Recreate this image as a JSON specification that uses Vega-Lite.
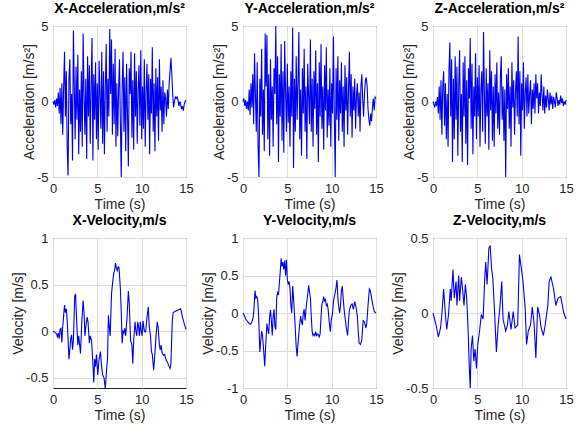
{
"$schema":"https://vega.github.io/schema/vega-lite/v6.json",
"background":"white",
"padding":{"left":11,"top":1,"right":2,"bottom":2},
"config":{
 "font":"Liberation Sans",
 "view":{"stroke":"#262626","strokeWidth":1},
 "axis":{"grid":true,"gridColor":"#dcdcdc","gridWidth":1,"domain":false,"ticks":false,"labelFlush":false,"labelFontSize":13,"labelColor":"#262626","labelPadding":5,"titleFontSize":14,"titleFontWeight":"normal","titleColor":"#262626","labelExpr":"datum.value + ''"},
 "axisX":{"titlePadding":2},
 "axisY":{"titlePadding":0},
 "title":{"fontSize":14,"fontWeight":"bold","color":"#000000","offset":4,"frame":"group"},
 "line":{"color":"#0000f0","strokeWidth":1.1,"clip":true}
},
"datasets":{
"ax":[{"t":0,"v":0},{"t":0.1,"v":-0.2},{"t":0.2,"v":0.1},{"t":0.3,"v":-0.4},{"t":0.4,"v":0.2},{"t":0.5,"v":-0.3},{"t":0.6,"v":0.6},{"t":0.7,"v":-0.8},{"t":0.8,"v":0.9},{"t":0.9,"v":-1.5},
{"t":1.0,"v":1.2},{"t":1.1,"v":-2.2},{"t":1.2,"v":1.0},{"t":1.3,"v":3.3},{"t":1.4,"v":-1.0},{"t":1.5,"v":2.0},{"t":1.6,"v":-3.0},{"t":1.7,"v":-4.9},{"t":1.8,"v":1.5},{"t":1.9,"v":2.8},
{"t":2.0,"v":-1.5},{"t":2.1,"v":0.5},{"t":2.2,"v":-3.9},{"t":2.3,"v":4.7},{"t":2.4,"v":1.0},{"t":2.5,"v":-2.5},{"t":2.6,"v":2.3},{"t":2.7,"v":-1.2},{"t":2.8,"v":3.1},{"t":2.9,"v":-3.5},
{"t":3.0,"v":0.8},{"t":3.1,"v":-2.0},{"t":3.2,"v":2.0},{"t":3.3,"v":-3.0},{"t":3.4,"v":4.5},{"t":3.5,"v":0.5},{"t":3.6,"v":-2.2},{"t":3.7,"v":1.5},{"t":3.8,"v":-3.8},{"t":3.9,"v":3.0},
{"t":4.0,"v":-1.0},{"t":4.1,"v":2.4},{"t":4.2,"v":-2.8},{"t":4.3,"v":0.9},{"t":4.4,"v":4.2},{"t":4.5,"v":-3.9},{"t":4.6,"v":1.8},{"t":4.7,"v":-1.2},{"t":4.8,"v":2.6},{"t":4.9,"v":-2.5},
{"t":5.0,"v":1.2},{"t":5.1,"v":-3.2},{"t":5.2,"v":2.7},{"t":5.3,"v":0.4},{"t":5.4,"v":-1.8},{"t":5.5,"v":3.3},{"t":5.6,"v":-2.8},{"t":5.7,"v":2.0},{"t":5.8,"v":-3.5},{"t":5.9,"v":1.0},
{"t":6.0,"v":3.8},{"t":6.1,"v":-2.0},{"t":6.2,"v":1.5},{"t":6.3,"v":-1.0},{"t":6.4,"v":4.8},{"t":6.5,"v":0.5},{"t":6.6,"v":4.1},{"t":6.7,"v":-2.2},{"t":6.8,"v":2.5},{"t":6.9,"v":-1.5},
{"t":7.0,"v":3.5},{"t":7.1,"v":-3.0},{"t":7.2,"v":1.2},{"t":7.3,"v":-2.3},{"t":7.4,"v":0.8},{"t":7.5,"v":2.8},{"t":7.6,"v":-1.5},{"t":7.7,"v":-5.0},{"t":7.8,"v":1.0},{"t":7.9,"v":3.3},
{"t":8.0,"v":-2.0},{"t":8.1,"v":1.6},{"t":8.2,"v":-3.3},{"t":8.3,"v":2.5},{"t":8.4,"v":-0.8},{"t":8.5,"v":-4.3},{"t":8.6,"v":2.2},{"t":8.7,"v":0.5},{"t":8.8,"v":3.3},{"t":8.9,"v":-2.4},
{"t":9.0,"v":1.4},{"t":9.1,"v":-3.2},{"t":9.2,"v":3.2},{"t":9.3,"v":-1.0},{"t":9.4,"v":2.0},{"t":9.5,"v":-2.8},{"t":9.6,"v":0.8},{"t":9.7,"v":2.4},{"t":9.8,"v":-1.6},{"t":9.9,"v":3.4},
{"t":10.0,"v":-2.5},{"t":10.1,"v":1.0},{"t":10.2,"v":-1.8},{"t":10.3,"v":2.8},{"t":10.4,"v":-3.0},{"t":10.5,"v":0.6},{"t":10.6,"v":2.5},{"t":10.7,"v":-1.2},{"t":10.8,"v":1.8},{"t":10.9,"v":-3.5},
{"t":11.0,"v":1.5},{"t":11.1,"v":-0.8},{"t":11.2,"v":3.6},{"t":11.3,"v":-2.0},{"t":11.4,"v":1.2},{"t":11.5,"v":-3.3},{"t":11.6,"v":2.2},{"t":11.7,"v":-1.0},{"t":11.8,"v":1.6},{"t":11.9,"v":-2.6},
{"t":12.0,"v":2.8},{"t":12.1,"v":-0.6},{"t":12.2,"v":1.0},{"t":12.3,"v":-2.0},{"t":12.4,"v":1.4},{"t":12.5,"v":-1.5},{"t":12.6,"v":0.6},{"t":12.7,"v":0.2},{"t":12.8,"v":-1.0},{"t":12.9,"v":0.8},
{"t":13.0,"v":-0.5},{"t":13.1,"v":1.2},{"t":13.2,"v":2.0},{"t":13.3,"v":2.9},{"t":13.4,"v":1.8},{"t":13.5,"v":0.5},{"t":13.6,"v":-0.4},{"t":13.7,"v":0.0},{"t":13.8,"v":0.3},{"t":13.9,"v":0.2},
{"t":14.0,"v":0.3},{"t":14.1,"v":0.1},{"t":14.2,"v":-0.3},{"t":14.3,"v":0.0},{"t":14.4,"v":-0.2},{"t":14.5,"v":-0.5},{"t":14.6,"v":-0.3},{"t":14.7,"v":-0.6},{"t":14.8,"v":-0.2},{"t":14.9,"v":0.0},{"t":15.0,"v":0.1}],
"ay":[{"t":0,"v":0},{"t":0.1,"v":0.2},{"t":0.2,"v":-0.3},{"t":0.3,"v":0.1},{"t":0.4,"v":-0.5},{"t":0.5,"v":0.0},{"t":0.6,"v":-0.6},{"t":0.7,"v":0.8},{"t":0.8,"v":-0.9},{"t":0.9,"v":1.2},
{"t":1.0,"v":-0.4},{"t":1.1,"v":1.8},{"t":1.2,"v":-1.5},{"t":1.3,"v":3.2},{"t":1.4,"v":0.5},{"t":1.5,"v":-2.0},{"t":1.6,"v":2.6},{"t":1.7,"v":-3.0},{"t":1.8,"v":-5.0},{"t":1.9,"v":1.5},
{"t":2.0,"v":-1.0},{"t":2.1,"v":3.5},{"t":2.2,"v":-2.2},{"t":2.3,"v":0.8},{"t":2.4,"v":-3.3},{"t":2.5,"v":4.5},{"t":2.6,"v":1.0},{"t":2.7,"v":4.4},{"t":2.8,"v":-2.5},{"t":2.9,"v":1.8},
{"t":3.0,"v":-3.6},{"t":3.1,"v":2.8},{"t":3.2,"v":-1.2},{"t":3.3,"v":1.0},{"t":3.4,"v":-3.0},{"t":3.5,"v":2.2},{"t":3.6,"v":0.5},{"t":3.7,"v":5.0},{"t":3.8,"v":-1.5},{"t":3.9,"v":3.0},
{"t":4.0,"v":-4.0},{"t":4.1,"v":1.8},{"t":4.2,"v":-1.0},{"t":4.3,"v":3.8},{"t":4.4,"v":-2.6},{"t":4.5,"v":2.0},{"t":4.6,"v":-3.4},{"t":4.7,"v":4.0},{"t":4.8,"v":0.6},{"t":4.9,"v":-2.0},
{"t":5.0,"v":2.5},{"t":5.1,"v":-1.4},{"t":5.2,"v":1.0},{"t":5.3,"v":-3.0},{"t":5.4,"v":2.0},{"t":5.5,"v":-1.0},{"t":5.6,"v":4.9},{"t":5.7,"v":-4.4},{"t":5.8,"v":1.5},{"t":5.9,"v":-2.0},
{"t":6.0,"v":3.0},{"t":6.1,"v":-1.2},{"t":6.2,"v":1.2},{"t":6.3,"v":4.6},{"t":6.4,"v":-2.5},{"t":6.5,"v":0.8},{"t":6.6,"v":-3.6},{"t":6.7,"v":2.2},{"t":6.8,"v":-0.8},{"t":6.9,"v":3.5},
{"t":7.0,"v":-2.0},{"t":7.1,"v":1.0},{"t":7.2,"v":-3.8},{"t":7.3,"v":2.5},{"t":7.4,"v":0.4},{"t":7.5,"v":-1.5},{"t":7.6,"v":4.1},{"t":7.7,"v":-2.0},{"t":7.8,"v":1.5},{"t":7.9,"v":-3.0},
{"t":8.0,"v":2.0},{"t":8.1,"v":-0.5},{"t":8.2,"v":3.4},{"t":8.3,"v":-2.2},{"t":8.4,"v":1.2},{"t":8.5,"v":-4.0},{"t":8.6,"v":2.6},{"t":8.7,"v":-1.0},{"t":8.8,"v":3.8},{"t":8.9,"v":-1.8},
{"t":9.0,"v":1.0},{"t":9.1,"v":-3.2},{"t":9.2,"v":2.4},{"t":9.3,"v":-0.6},{"t":9.4,"v":3.6},{"t":9.5,"v":-2.4},{"t":9.6,"v":0.8},{"t":9.7,"v":-1.6},{"t":9.8,"v":2.2},{"t":9.9,"v":-3.0},
{"t":10.0,"v":1.2},{"t":10.1,"v":-0.8},{"t":10.2,"v":4.3},{"t":10.3,"v":-1.0},{"t":10.4,"v":-5.0},{"t":10.5,"v":2.2},{"t":10.6,"v":-1.2},{"t":10.7,"v":3.0},{"t":10.8,"v":-2.6},{"t":10.9,"v":1.4},
{"t":11.0,"v":-0.8},{"t":11.1,"v":2.6},{"t":11.2,"v":-2.0},{"t":11.3,"v":1.0},{"t":11.4,"v":-3.0},{"t":11.5,"v":2.4},{"t":11.6,"v":-0.6},{"t":11.7,"v":1.6},{"t":11.8,"v":-2.2},{"t":11.9,"v":0.8},
{"t":12.0,"v":3.3},{"t":12.1,"v":-1.0},{"t":12.2,"v":1.8},{"t":12.3,"v":-2.4},{"t":12.4,"v":1.0},{"t":12.5,"v":-0.6},{"t":12.6,"v":1.5},{"t":12.7,"v":-1.8},{"t":12.8,"v":0.4},{"t":12.9,"v":1.2},
{"t":13.0,"v":-1.0},{"t":13.1,"v":0.6},{"t":13.2,"v":-2.0},{"t":13.3,"v":1.0},{"t":13.4,"v":1.8},{"t":13.5,"v":0.2},{"t":13.6,"v":-1.0},{"t":13.7,"v":0.5},{"t":13.8,"v":1.4},{"t":13.9,"v":1.6},
{"t":14.0,"v":1.0},{"t":14.1,"v":-0.5},{"t":14.2,"v":-1.2},{"t":14.3,"v":-1.6},{"t":14.4,"v":-0.8},{"t":14.5,"v":-1.3},{"t":14.6,"v":-0.4},{"t":14.7,"v":0.2},{"t":14.8,"v":-0.6},{"t":14.9,"v":0.3},{"t":15.0,"v":0.2}],
"az":[{"t":0,"v":0},{"t":0.1,"v":-0.2},{"t":0.2,"v":-0.4},{"t":0.3,"v":0.0},{"t":0.4,"v":-0.3},{"t":0.5,"v":0.3},{"t":0.6,"v":-0.8},{"t":0.7,"v":1.0},{"t":0.8,"v":-1.2},{"t":0.9,"v":1.4},
{"t":1.0,"v":-2.2},{"t":1.1,"v":1.0},{"t":1.2,"v":2.0},{"t":1.3,"v":-1.6},{"t":1.4,"v":1.2},{"t":1.5,"v":-2.5},{"t":1.6,"v":0.5},{"t":1.7,"v":-3.0},{"t":1.8,"v":2.0},{"t":1.9,"v":3.9},
{"t":2.0,"v":-1.0},{"t":2.1,"v":2.8},{"t":2.2,"v":-4.0},{"t":2.3,"v":1.5},{"t":2.4,"v":-2.5},{"t":2.5,"v":3.0},{"t":2.6,"v":-1.2},{"t":2.7,"v":2.3},{"t":2.8,"v":-3.6},{"t":2.9,"v":1.0},
{"t":3.0,"v":3.4},{"t":3.1,"v":-2.0},{"t":3.2,"v":0.5},{"t":3.3,"v":-4.0},{"t":3.4,"v":2.6},{"t":3.5,"v":-1.0},{"t":3.6,"v":3.0},{"t":3.7,"v":-2.8},{"t":3.8,"v":1.4},{"t":3.9,"v":-4.2},
{"t":4.0,"v":2.2},{"t":4.1,"v":0.2},{"t":4.2,"v":4.2},{"t":4.3,"v":-1.8},{"t":4.4,"v":2.5},{"t":4.5,"v":-3.5},{"t":4.6,"v":1.0},{"t":4.7,"v":-1.0},{"t":4.8,"v":3.2},{"t":4.9,"v":-2.5},
{"t":5.0,"v":1.6},{"t":5.1,"v":-1.0},{"t":5.2,"v":2.4},{"t":5.3,"v":-3.0},{"t":5.4,"v":0.8},{"t":5.5,"v":2.0},{"t":5.6,"v":-2.0},{"t":5.7,"v":4.6},{"t":5.8,"v":0.4},{"t":5.9,"v":-2.8},
{"t":6.0,"v":2.2},{"t":6.1,"v":-1.0},{"t":6.2,"v":1.2},{"t":6.3,"v":-3.2},{"t":6.4,"v":3.4},{"t":6.5,"v":-0.6},{"t":6.6,"v":2.0},{"t":6.7,"v":-2.6},{"t":6.8,"v":1.0},{"t":6.9,"v":-3.0},
{"t":7.0,"v":1.8},{"t":7.1,"v":-0.8},{"t":7.2,"v":2.6},{"t":7.3,"v":-1.8},{"t":7.4,"v":0.6},{"t":7.5,"v":-2.2},{"t":7.6,"v":1.6},{"t":7.7,"v":3.0},{"t":7.8,"v":-1.2},{"t":7.9,"v":1.0},
{"t":8.0,"v":-2.6},{"t":8.1,"v":0.8},{"t":8.2,"v":-5.0},{"t":8.3,"v":1.8},{"t":8.4,"v":-0.5},{"t":8.5,"v":2.2},{"t":8.6,"v":-1.8},{"t":8.7,"v":1.0},{"t":8.8,"v":-3.0},{"t":8.9,"v":2.6},
{"t":9.0,"v":-0.4},{"t":9.1,"v":1.4},{"t":9.2,"v":-2.2},{"t":9.3,"v":0.6},{"t":9.4,"v":2.0},{"t":9.5,"v":-1.0},{"t":9.6,"v":4.3},{"t":9.7,"v":-1.5},{"t":9.8,"v":2.0},{"t":9.9,"v":-3.6},
{"t":10.0,"v":1.2},{"t":10.1,"v":-0.6},{"t":10.2,"v":2.6},{"t":10.3,"v":-1.8},{"t":10.4,"v":0.6},{"t":10.5,"v":1.6},{"t":10.6,"v":-1.0},{"t":10.7,"v":1.8},{"t":10.8,"v":-0.8},{"t":10.9,"v":0.5},
{"t":11.0,"v":1.4},{"t":11.1,"v":-1.5},{"t":11.2,"v":0.8},{"t":11.3,"v":-0.5},{"t":11.4,"v":1.2},{"t":11.5,"v":-0.8},{"t":11.6,"v":1.8},{"t":11.7,"v":0.2},{"t":11.8,"v":1.2},{"t":11.9,"v":-0.8},
{"t":12.0,"v":0.6},{"t":12.1,"v":-0.3},{"t":12.2,"v":1.8},{"t":12.3,"v":0.4},{"t":12.4,"v":-0.6},{"t":12.5,"v":1.0},{"t":12.6,"v":-0.8},{"t":12.7,"v":0.4},{"t":12.8,"v":-0.4},{"t":12.9,"v":0.8},
{"t":13.0,"v":0.2},{"t":13.1,"v":-0.6},{"t":13.2,"v":0.6},{"t":13.3,"v":-0.2},{"t":13.4,"v":0.4},{"t":13.5,"v":-0.5},{"t":13.6,"v":0.3},{"t":13.7,"v":0.0},{"t":13.8,"v":-0.4},{"t":13.9,"v":0.6},
{"t":14.0,"v":0.2},{"t":14.1,"v":-0.3},{"t":14.2,"v":0.1},{"t":14.3,"v":-0.2},{"t":14.4,"v":0.4},{"t":14.5,"v":-0.1},{"t":14.6,"v":0.2},{"t":14.7,"v":-0.3},{"t":14.8,"v":0.0},{"t":14.9,"v":-0.2},{"t":15.0,"v":0.1}],
"vx":[{"t":0,"v":0},{"t":0.2,"v":-0.01},{"t":0.4,"v":-0.03},{"t":0.5,"v":-0.06},{"t":0.6,"v":-0.02},{"t":0.7,"v":-0.08},{"t":0.8,"v":0.02},{"t":0.9,"v":0.03},{"t":1.0,"v":-0.12},{"t":1.1,"v":0.05},{"t":1.3,"v":0.28},{"t":1.4,"v":0.2},{"t":1.5,"v":0.24},{"t":1.6,"v":0.12},{"t":1.8,"v":-0.3},{"t":1.9,"v":-0.2},{"t":2.0,"v":-0.08},{"t":2.1,"v":-0.04},{"t":2.2,"v":-0.2},{"t":2.3,"v":-0.1},{"t":2.45,"v":0.38},{"t":2.55,"v":0.4},{"t":2.65,"v":0.15},{"t":2.8,"v":-0.15},{"t":2.9,"v":-0.05},{"t":3.1,"v":-0.24},{"t":3.25,"v":0.1},{"t":3.4,"v":0.33},{"t":3.5,"v":0.2},{"t":3.6,"v":-0.05},{"t":3.7,"v":0.05},{"t":3.85,"v":0.15},{"t":3.95,"v":0.1},{"t":4.1,"v":-0.13},{"t":4.2,"v":-0.05},{"t":4.35,"v":-0.1},{"t":4.5,"v":-0.35},{"t":4.6,"v":-0.55},{"t":4.7,"v":-0.3},{"t":4.8,"v":-0.38},{"t":4.9,"v":-0.25},{"t":5.05,"v":-0.47},{"t":5.2,"v":-0.3},{"t":5.35,"v":-0.22},{"t":5.5,"v":-0.4},{"t":5.6,"v":-0.47},{"t":5.75,"v":-0.5},{"t":5.9,"v":-0.62},{"t":6.05,"v":-0.4},{"t":6.15,"v":-0.3},{"t":6.25,"v":0.17},{"t":6.35,"v":0.05},{"t":6.45,"v":-0.05},{"t":6.6,"v":0.4},{"t":6.7,"v":0.5},{"t":6.85,"v":0.62},{"t":6.95,"v":0.65},{"t":7.05,"v":0.73},{"t":7.15,"v":0.68},{"t":7.25,"v":0.65},{"t":7.35,"v":0.69},{"t":7.45,"v":0.68},{"t":7.6,"v":0.45},{"t":7.7,"v":0.2},{"t":7.8,"v":-0.13},{"t":7.9,"v":0.0},{"t":8.0,"v":-0.02},{"t":8.1,"v":0.03},{"t":8.2,"v":-0.05},{"t":8.35,"v":0.15},{"t":8.5,"v":0.43},{"t":8.6,"v":0.3},{"t":8.75,"v":-0.1},{"t":8.9,"v":-0.15},{"t":9.0,"v":-0.35},{"t":9.1,"v":-0.1},{"t":9.25,"v":0.1},{"t":9.35,"v":0.0},{"t":9.45,"v":-0.05},{"t":9.55,"v":0.1},{"t":9.65,"v":0.05},{"t":9.75,"v":-0.05},{"t":9.85,"v":0.1},{"t":9.95,"v":0.0},{"t":10.05,"v":-0.05},{"t":10.15,"v":0.11},{"t":10.3,"v":0.0},{"t":10.45,"v":-0.01},{"t":10.6,"v":0.15},{"t":10.75,"v":0.26},{"t":10.85,"v":0.05},{"t":11.0,"v":-0.05},{"t":11.1,"v":-0.22},{"t":11.2,"v":-0.25},{"t":11.35,"v":-0.42},{"t":11.45,"v":-0.3},{"t":11.6,"v":-0.08},{"t":11.75,"v":0.1},{"t":11.85,"v":0.05},{"t":12.0,"v":-0.15},{"t":12.1,"v":-0.2},{"t":12.2,"v":-0.15},{"t":12.3,"v":-0.23},{"t":12.45,"v":-0.26},{"t":12.6,"v":-0.25},{"t":12.75,"v":-0.31},{"t":12.9,"v":-0.33},{"t":13.05,"v":-0.37},{"t":13.2,"v":-0.4},{"t":13.3,"v":-0.35},{"t":13.45,"v":0.1},{"t":13.55,"v":0.2},{"t":13.75,"v":0.21},{"t":13.95,"v":0.22},{"t":14.15,"v":0.23},{"t":14.4,"v":0.24},{"t":14.6,"v":0.15},{"t":14.8,"v":0.08},{"t":15.0,"v":0.02}],
"vy":[{"t":0,"v":0},{"t":0.15,"v":-0.03},{"t":0.3,"v":-0.08},{"t":0.5,"v":-0.11},{"t":0.7,"v":-0.14},{"t":0.85,"v":-0.15},{"t":1.0,"v":-0.12},{"t":1.15,"v":-0.06},{"t":1.25,"v":0.08},{"t":1.35,"v":0.3},{"t":1.45,"v":0.2},{"t":1.55,"v":0.22},{"t":1.65,"v":0.18},{"t":1.75,"v":0.0},{"t":1.9,"v":-0.52},{"t":2.0,"v":-0.38},{"t":2.1,"v":-0.24},{"t":2.2,"v":-0.3},{"t":2.3,"v":-0.45},{"t":2.45,"v":-0.71},{"t":2.55,"v":-0.45},{"t":2.7,"v":-0.14},{"t":2.8,"v":-0.22},{"t":2.9,"v":-0.28},{"t":3.0,"v":-0.05},{"t":3.1,"v":0.04},{"t":3.2,"v":-0.1},{"t":3.3,"v":-0.3},{"t":3.4,"v":-0.05},{"t":3.5,"v":0.05},{"t":3.6,"v":-0.18},{"t":3.7,"v":-0.22},{"t":3.8,"v":0.2},{"t":3.9,"v":0.27},{"t":4.0,"v":0.24},{"t":4.1,"v":0.4},{"t":4.2,"v":0.55},{"t":4.3,"v":0.73},{"t":4.4,"v":0.62},{"t":4.5,"v":0.68},{"t":4.6,"v":0.58},{"t":4.7,"v":0.7},{"t":4.8,"v":0.5},{"t":4.9,"v":0.71},{"t":5.0,"v":0.45},{"t":5.1,"v":0.38},{"t":5.2,"v":0.42},{"t":5.3,"v":0.33},{"t":5.4,"v":0.1},{"t":5.5,"v":0.0},{"t":5.6,"v":0.36},{"t":5.7,"v":0.2},{"t":5.85,"v":-0.1},{"t":6.0,"v":-0.45},{"t":6.1,"v":-0.58},{"t":6.2,"v":-0.42},{"t":6.35,"v":-0.2},{"t":6.5,"v":-0.04},{"t":6.6,"v":-0.12},{"t":6.7,"v":-0.16},{"t":6.8,"v":0.0},{"t":6.9,"v":0.05},{"t":7.0,"v":-0.1},{"t":7.15,"v":0.1},{"t":7.3,"v":0.25},{"t":7.4,"v":0.37},{"t":7.5,"v":0.28},{"t":7.6,"v":0.2},{"t":7.7,"v":-0.05},{"t":7.8,"v":-0.25},{"t":7.9,"v":-0.3},{"t":8.0,"v":-0.28},{"t":8.1,"v":-0.3},{"t":8.2,"v":-0.25},{"t":8.3,"v":-0.3},{"t":8.45,"v":-0.28},{"t":8.6,"v":-0.32},{"t":8.7,"v":-0.28},{"t":8.8,"v":-0.05},{"t":8.9,"v":0.12},{"t":9.0,"v":0.15},{"t":9.1,"v":0.22},{"t":9.2,"v":0.16},{"t":9.3,"v":0.18},{"t":9.4,"v":0.1},{"t":9.5,"v":0.12},{"t":9.6,"v":0.05},{"t":9.75,"v":-0.15},{"t":9.85,"v":-0.25},{"t":9.95,"v":-0.1},{"t":10.1,"v":0.0},{"t":10.2,"v":0.15},{"t":10.35,"v":0.25},{"t":10.45,"v":0.3},{"t":10.6,"v":0.44},{"t":10.7,"v":0.2},{"t":10.8,"v":0.08},{"t":10.9,"v":0.0},{"t":11.0,"v":0.1},{"t":11.1,"v":0.3},{"t":11.2,"v":0.36},{"t":11.3,"v":0.2},{"t":11.4,"v":0.05},{"t":11.5,"v":-0.05},{"t":11.65,"v":-0.2},{"t":11.8,"v":-0.3},{"t":11.9,"v":-0.1},{"t":12.0,"v":0.04},{"t":12.15,"v":0.1},{"t":12.3,"v":0.12},{"t":12.45,"v":0.05},{"t":12.6,"v":0.15},{"t":12.75,"v":0.08},{"t":12.9,"v":-0.05},{"t":13.0,"v":-0.25},{"t":13.1,"v":-0.4},{"t":13.25,"v":-0.42},{"t":13.4,"v":-0.36},{"t":13.55,"v":-0.1},{"t":13.7,"v":-0.12},{"t":13.85,"v":-0.2},{"t":13.95,"v":-0.15},{"t":14.1,"v":0.1},{"t":14.25,"v":0.32},{"t":14.35,"v":0.3},{"t":14.5,"v":0.2},{"t":14.65,"v":0.1},{"t":14.8,"v":0.02},{"t":15.0,"v":0.0}],
"vz":[{"t":0,"v":0},{"t":0.35,"v":-0.08},{"t":0.6,"v":-0.16},{"t":0.85,"v":-0.1},{"t":1.0,"v":-0.01},{"t":1.2,"v":0.16},{"t":1.35,"v":0.03},{"t":1.55,"v":-0.11},{"t":1.75,"v":-0.01},{"t":1.95,"v":0.16},{"t":2.05,"v":0.08},{"t":2.25,"v":0.29},{"t":2.4,"v":0.1},{"t":2.6,"v":0.21},{"t":2.7,"v":0.05},{"t":2.9,"v":0.25},{"t":3.0,"v":0.08},{"t":3.2,"v":0.24},{"t":3.35,"v":0.15},{"t":3.5,"v":0.05},{"t":3.65,"v":0.19},{"t":3.8,"v":0.1},{"t":3.95,"v":-0.1},{"t":4.1,"v":-0.37},{"t":4.2,"v":-0.5},{"t":4.3,"v":-0.24},{"t":4.45,"v":-0.15},{"t":4.6,"v":-0.32},{"t":4.75,"v":-0.24},{"t":4.9,"v":-0.37},{"t":5.05,"v":-0.21},{"t":5.25,"v":-0.12},{"t":5.45,"v":-0.01},{"t":5.65,"v":-0.04},{"t":5.85,"v":0.25},{"t":5.95,"v":0.34},{"t":6.1,"v":0.19},{"t":6.3,"v":0.43},{"t":6.45,"v":0.45},{"t":6.6,"v":0.3},{"t":6.75,"v":0.23},{"t":6.95,"v":0.0},{"t":7.15,"v":-0.26},{"t":7.35,"v":-0.08},{"t":7.55,"v":0.04},{"t":7.75,"v":0.21},{"t":7.9,"v":-0.04},{"t":8.2,"v":-0.12},{"t":8.4,"v":-0.08},{"t":8.55,"v":0.01},{"t":8.8,"v":-0.11},{"t":9.05,"v":0.01},{"t":9.25,"v":-0.1},{"t":9.55,"v":-0.08},{"t":9.75,"v":0.39},{"t":10.0,"v":0.28},{"t":10.15,"v":0.21},{"t":10.4,"v":0.03},{"t":10.55,"v":-0.21},{"t":10.75,"v":-0.12},{"t":11.0,"v":-0.08},{"t":11.2,"v":0.04},{"t":11.4,"v":-0.07},{"t":11.6,"v":-0.3},{"t":11.8,"v":0.04},{"t":12.0,"v":-0.01},{"t":12.2,"v":-0.1},{"t":12.45,"v":-0.15},{"t":12.65,"v":-0.08},{"t":12.95,"v":0.05},{"t":13.1,"v":0.21},{"t":13.3,"v":0.24},{"t":13.6,"v":0.16},{"t":13.85,"v":0.05},{"t":14.1,"v":0.1},{"t":14.4,"v":0.11},{"t":14.75,"v":0.0},{"t":15.0,"v":-0.04}]
},
"columns":3,
"spacing":{"row":61,"column":57},
"bounds":"flush",
"concat":[
  {"title":"X-Acceleration,m/s²","width":133,"height":151,"data":{"name":"ax"},"mark":{"type":"line"},
   "encoding":{"x":{"field":"t","type":"quantitative","scale":{"domain":[0,15],"nice":false},"axis":{"values":[0,5,10,15],"title":"Time (s)"}},
   "y":{"field":"v","type":"quantitative","scale":{"domain":[-5,5],"nice":false},"axis":{"values":[-5,0,5],"title":"Acceleration [m/s²]"}}}},
  {"title":"Y-Acceleration,m/s²","width":133,"height":151,"data":{"name":"ay"},"mark":{"type":"line"},
   "encoding":{"x":{"field":"t","type":"quantitative","scale":{"domain":[0,15],"nice":false},"axis":{"values":[0,5,10,15],"title":"Time (s)"}},
   "y":{"field":"v","type":"quantitative","scale":{"domain":[-5,5],"nice":false},"axis":{"values":[-5,0,5],"title":"Acceleration [m/s²]"}}}},
  {"title":"Z-Acceleration,m/s²","width":133,"height":151,"data":{"name":"az"},"mark":{"type":"line"},
   "encoding":{"x":{"field":"t","type":"quantitative","scale":{"domain":[0,15],"nice":false},"axis":{"values":[0,5,10,15],"title":"Time (s)"}},
   "y":{"field":"v","type":"quantitative","scale":{"domain":[-5,5],"nice":false},"axis":{"values":[-5,0,5],"title":"Acceleration [m/s²]"}}}},
  {"title":"X-Velocity,m/s","width":133,"height":150,"data":{"name":"vx"},"mark":{"type":"line"},
   "encoding":{"x":{"field":"t","type":"quantitative","scale":{"domain":[0,15],"nice":false},"axis":{"values":[0,5,10,15],"title":"Time (s)"}},
   "y":{"field":"v","type":"quantitative","scale":{"domain":[-0.61,1],"nice":false},"axis":{"values":[-0.5,0,0.5,1],"title":"Velocity [m/s]"}}}},
  {"title":"Y-Velocity,m/s","width":133,"height":150,"data":{"name":"vy"},"mark":{"type":"line"},
   "encoding":{"x":{"field":"t","type":"quantitative","scale":{"domain":[0,15],"nice":false},"axis":{"values":[0,5,10,15],"title":"Time (s)"}},
   "y":{"field":"v","type":"quantitative","scale":{"domain":[-1,1],"nice":false},"axis":{"values":[-1,-0.5,0,0.5,1],"title":"Velocity [m/s]"}}}},
  {"title":"Z-Velocity,m/s","width":133,"height":150,"data":{"name":"vz"},"mark":{"type":"line"},
   "encoding":{"x":{"field":"t","type":"quantitative","scale":{"domain":[0,15],"nice":false},"axis":{"values":[0,5,10,15],"title":"Time (s)"}},
   "y":{"field":"v","type":"quantitative","scale":{"domain":[-0.5,0.5],"nice":false},"axis":{"values":[-0.5,0,0.5],"title":"Velocity [m/s]"}}}}
]
}
